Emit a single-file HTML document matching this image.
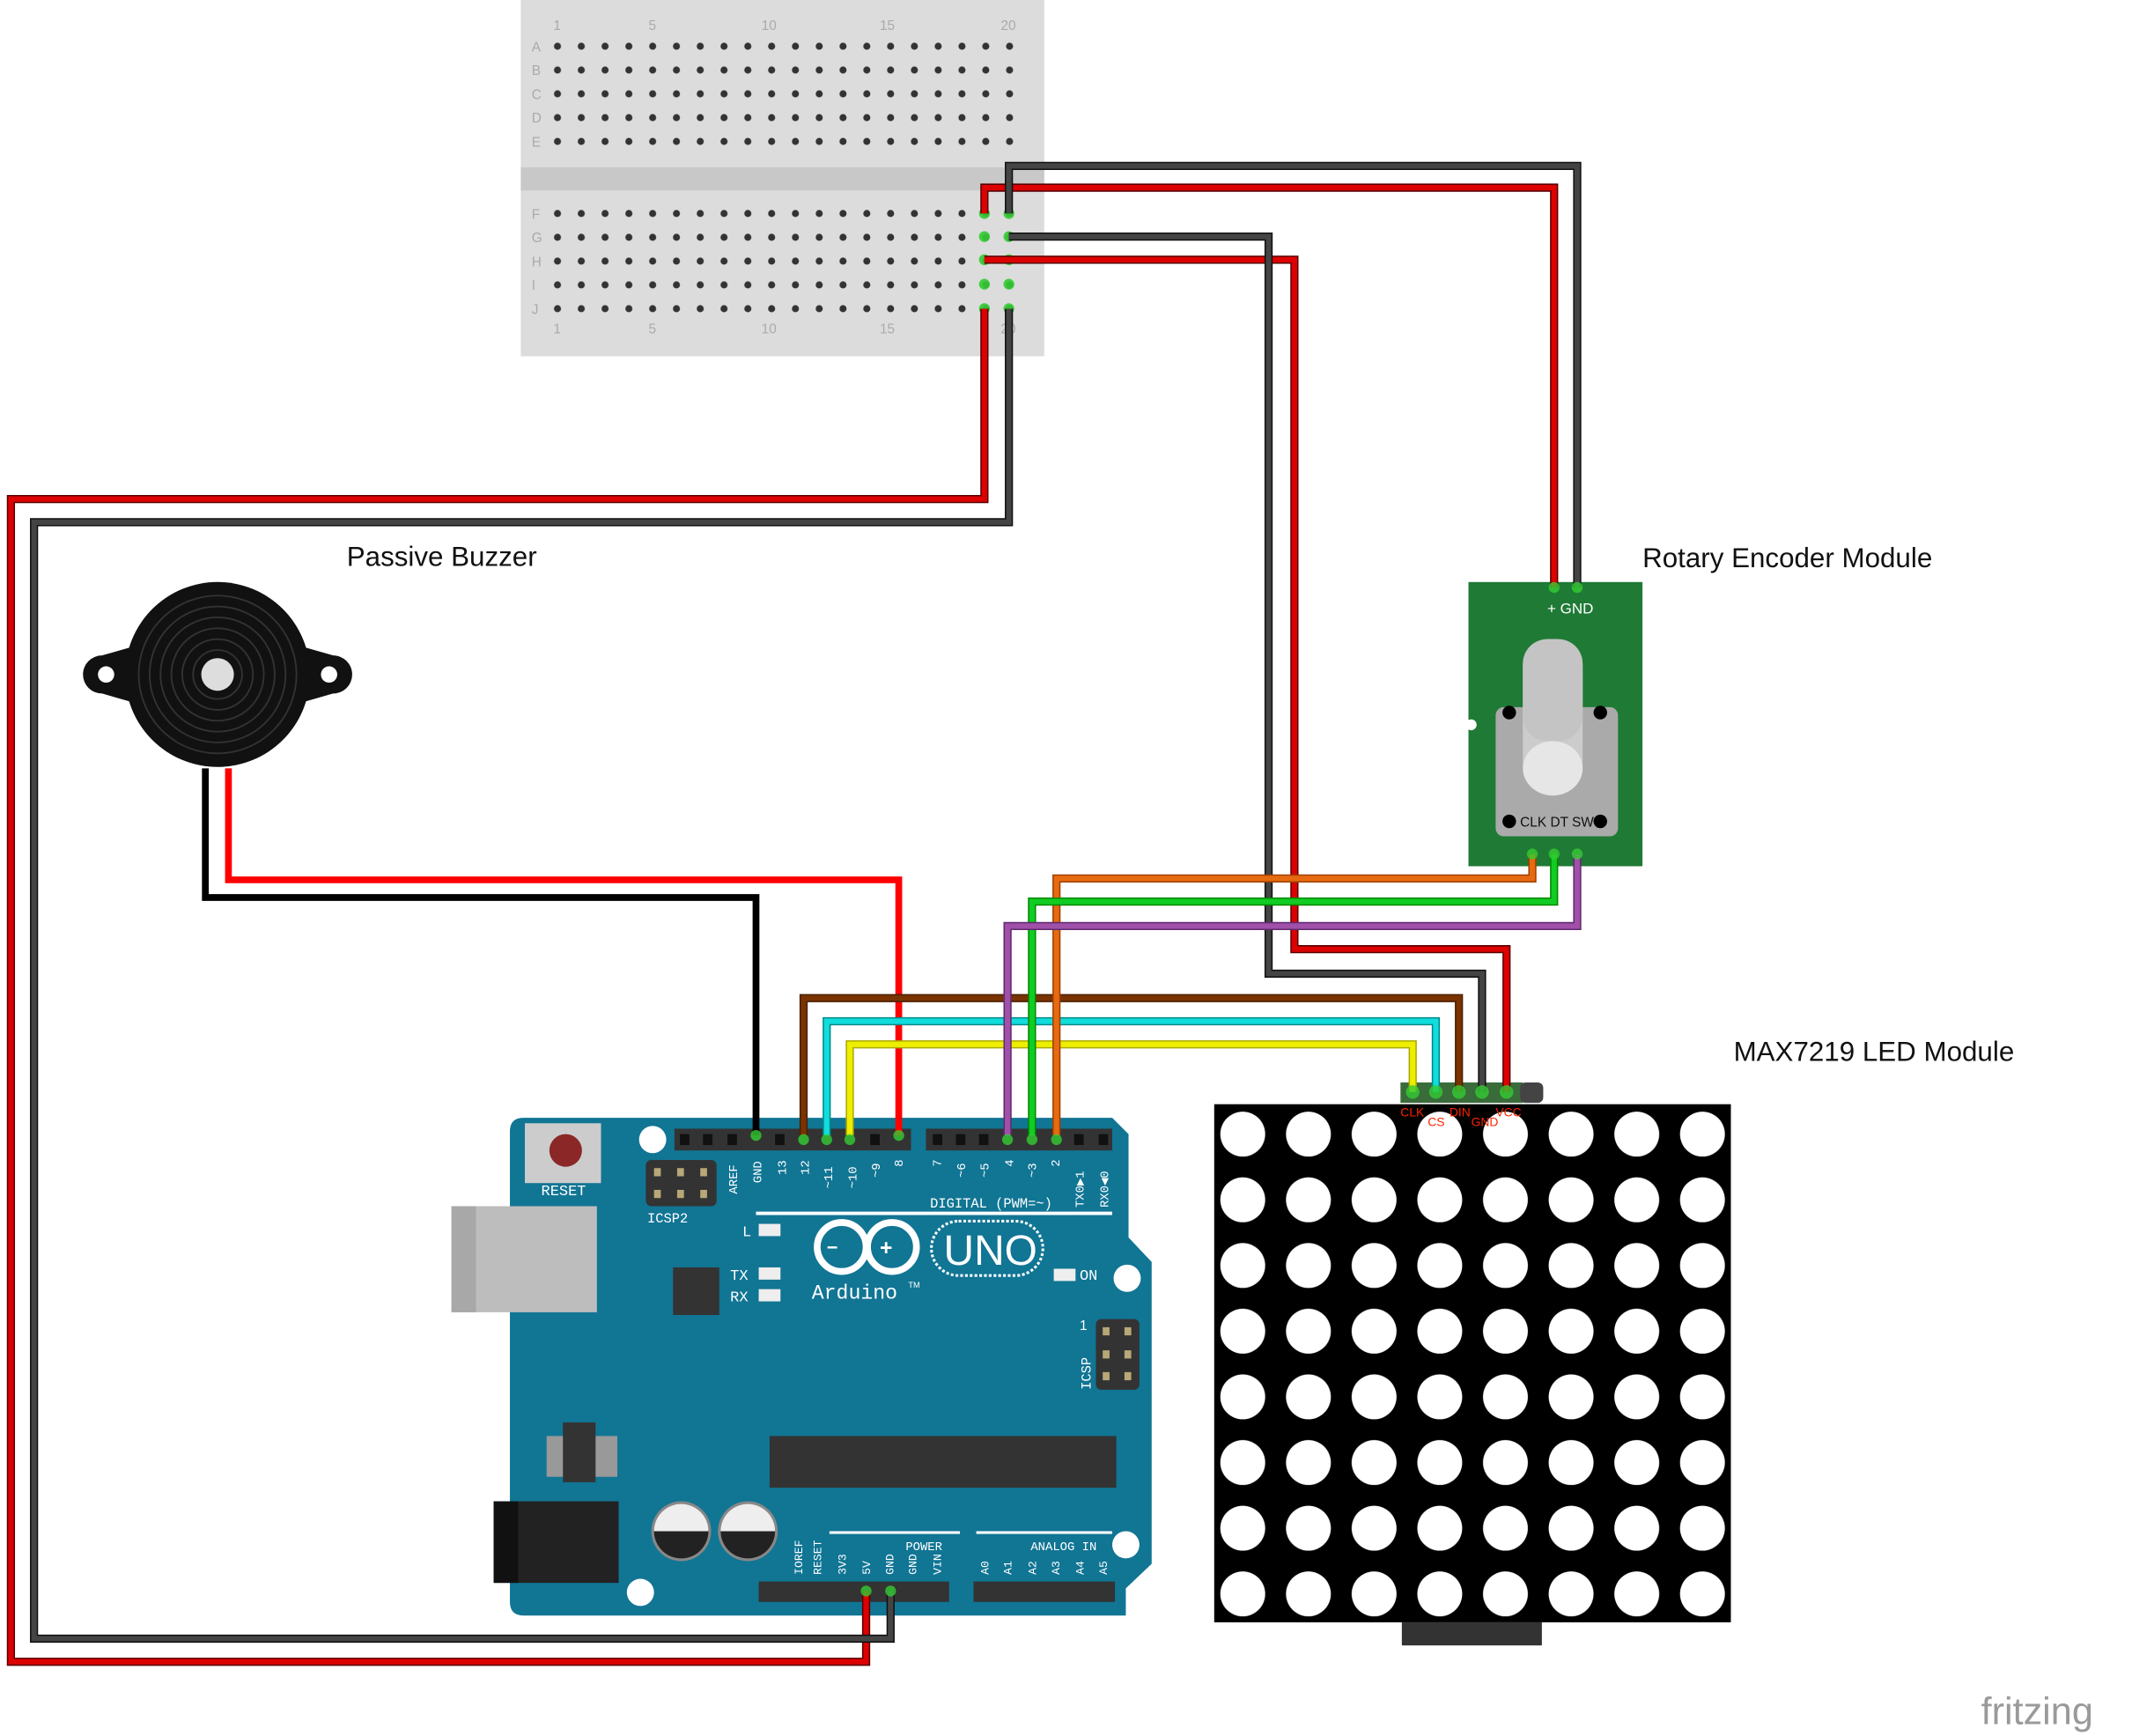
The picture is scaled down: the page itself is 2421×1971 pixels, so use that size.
<!DOCTYPE html>
<html><head><meta charset="utf-8"><style>html,body{margin:0;padding:0;background:#fff}svg{display:block}</style></head>
<body>
<svg xmlns="http://www.w3.org/2000/svg" width="2421" height="1971" viewBox="0 0 1568 1276.6" font-family="Liberation Sans, sans-serif">
<defs>
<pattern id="bb" x="401.25" y="25.25" width="17.5" height="17.5" patternUnits="userSpaceOnUse"><circle cx="8.75" cy="8.75" r="2.6" fill="#333"/></pattern>
<pattern id="bb2" x="401.25" y="148.25" width="17.5" height="17.5" patternUnits="userSpaceOnUse"><circle cx="8.75" cy="8.75" r="2.6" fill="#333"/></pattern>
<pattern id="led" x="890" y="810" width="48.3" height="48.3" patternUnits="userSpaceOnUse"><circle cx="24" cy="24" r="16.5" fill="#fff"/></pattern>
</defs>
<!-- breadboard -->
<rect x="383" y="0" width="385" height="262" fill="#dcdcdc"/>
<rect x="383" y="123" width="385" height="17" fill="#c8c8c8"/>
<rect x="401" y="25" width="350" height="88" fill="url(#bb)"/>
<rect x="401" y="148" width="350" height="88" fill="url(#bb2)"/>
<g font-size="10" fill="#aaa">
<text x="407" y="22">1</text><text x="477" y="22">5</text><text x="560" y="22">10</text><text x="647" y="22">15</text><text x="736" y="22">20</text>
<text x="407" y="245">1</text><text x="477" y="245">5</text><text x="560" y="245">10</text><text x="647" y="245">15</text><text x="736" y="245">20</text>
<text x="391" y="38">A</text><text x="391" y="55">B</text><text x="391" y="73">C</text><text x="391" y="90">D</text><text x="391" y="108">E</text>
<text x="391" y="161">F</text><text x="391" y="178">G</text><text x="391" y="196">H</text><text x="391" y="213">I</text><text x="391" y="231">J</text>
</g>
<g fill="#3c3" opacity="0.9"><circle cx="724" cy="157" r="4"/><circle cx="742" cy="157" r="4"/><circle cx="724" cy="174" r="4"/><circle cx="742" cy="174" r="4"/><circle cx="724" cy="191" r="4"/><circle cx="742" cy="191" r="4"/><circle cx="724" cy="209" r="4"/><circle cx="742" cy="209" r="4"/><circle cx="724" cy="227" r="4"/><circle cx="742" cy="227" r="4"/></g>

<!-- buzzer -->
<g>
<path d="M75,482 L110,472 L110,520 L75,510 A14,14 0 0 1 75,482Z" fill="#111"/>
<path d="M245,482 L210,472 L210,520 L245,510 A14,14 0 0 0 245,482Z" fill="#111"/>
<circle cx="78" cy="496" r="6" fill="#fff"/><circle cx="242" cy="496" r="6" fill="#fff"/>
<circle cx="160" cy="496" r="68" fill="#111"/>
<g fill="none" stroke="#333" stroke-width="1.2"><circle cx="160" cy="496" r="58"/><circle cx="160" cy="496" r="50"/><circle cx="160" cy="496" r="42"/><circle cx="160" cy="496" r="34"/><circle cx="160" cy="496" r="26"/><circle cx="160" cy="496" r="18"/></g>
<circle cx="160" cy="496" r="12" fill="#ddd"/>
</g>

<!-- encoder -->
<rect x="1080" y="428" width="128" height="209" fill="#1f7a35"/>
<circle cx="1082" cy="533" r="4" fill="#fff"/>
<text x="1138" y="451" font-size="11" fill="#fff">+ GND</text>
<rect x="1100" y="520" width="90" height="95" rx="6" fill="#aaa"/>
<rect x="1120" y="470" width="44" height="110" rx="20" fill="#ccc"/>
<ellipse cx="1142" cy="565" rx="22" ry="20" fill="#e6e6e6"/>
<rect x="1120" y="470" width="44" height="75" rx="18" fill="#c4c4c4"/>
<circle cx="1110" cy="524" r="5" fill="#000"/><circle cx="1177" cy="524" r="5" fill="#000"/>
<circle cx="1110" cy="604" r="5" fill="#000"/><circle cx="1177" cy="604" r="5" fill="#000"/>
<text x="1118" y="608" font-size="10" fill="#111">CLK DT SW</text>

<!-- arduino -->
<path d="M385,822 L818,822 L830,834 L830,910 L847,928 L847,1150 L828,1168 L828,1188 L385,1188 Q375,1188 375,1178 L375,832 Q375,822 385,822Z" fill="#117594"/>
<rect x="386" y="826" width="56" height="44" fill="#ccc"/><circle cx="416" cy="846" r="12" fill="#8b2727"/>
<text x="398" y="879" font-size="11" fill="#fff" font-family="Liberation Mono, monospace">RESET</text>
<rect x="332" y="887" width="107" height="78" fill="#bdbdbd"/><rect x="332" y="887" width="18" height="78" fill="#a8a8a8"/>
<circle cx="480" cy="838" r="10" fill="#fff"/><circle cx="829" cy="940" r="10" fill="#fff"/><circle cx="828" cy="1136" r="10" fill="#fff"/><circle cx="471" cy="1171" r="10" fill="#fff"/>
<rect x="475" y="853" width="52" height="34" rx="4" fill="#333"/>
<g fill="#b8a878"><rect x="481" y="859" width="5" height="6"/><rect x="498" y="859" width="5" height="6"/><rect x="515" y="859" width="5" height="6"/><rect x="481" y="875" width="5" height="6"/><rect x="498" y="875" width="5" height="6"/><rect x="515" y="875" width="5" height="6"/></g>
<text x="476" y="899" font-size="10" fill="#fff" font-family="Liberation Mono, monospace">ICSP2</text>
<rect x="496" y="830" width="174" height="16" fill="#333"/>
<rect x="681" y="830" width="137" height="16" fill="#333"/>
<g fill="#111"><rect x="500" y="834" width="7" height="8"/><rect x="517" y="834" width="7" height="8"/><rect x="535" y="834" width="7" height="8"/><rect x="570" y="834" width="7" height="8"/><rect x="640" y="834" width="7" height="8"/><rect x="686" y="834" width="7" height="8"/><rect x="703" y="834" width="7" height="8"/><rect x="720" y="834" width="7" height="8"/><rect x="790" y="834" width="7" height="8"/><rect x="808" y="834" width="7" height="8"/></g>
<rect x="556" y="891" width="262" height="2.5" fill="#fff"/>
<text x="684" y="888" font-size="10" fill="#fff" font-family="Liberation Mono, monospace">DIGITAL (PWM=~)</text>
<g font-size="9" fill="#fff" font-family="Liberation Mono, monospace">
<text transform="translate(542,878) rotate(-90)">AREF</text><text transform="translate(560,870) rotate(-90)">GND</text><text transform="translate(578,864) rotate(-90)">13</text><text transform="translate(595,864) rotate(-90)">12</text><text transform="translate(612,874) rotate(-90)">~11</text><text transform="translate(630,874) rotate(-90)">~10</text><text transform="translate(647,866) rotate(-90)">~9</text><text transform="translate(664,858) rotate(-90)">8</text>
<text transform="translate(692,858) rotate(-90)">7</text><text transform="translate(710,866) rotate(-90)">~6</text><text transform="translate(727,866) rotate(-90)">~5</text><text transform="translate(745,858) rotate(-90)">4</text><text transform="translate(762,866) rotate(-90)">~3</text><text transform="translate(779,858) rotate(-90)">2</text><text transform="translate(797,888) rotate(-90)">TX0▶1</text><text transform="translate(815,888) rotate(-90)">RX0◀0</text>
</g>
<text x="546" y="909" font-size="11" fill="#fff" font-family="Liberation Mono, monospace">L</text><rect x="558" y="900" width="16" height="9" fill="#eee"/>
<text x="537" y="941" font-size="11" fill="#fff" font-family="Liberation Mono, monospace">TX</text><rect x="558" y="932" width="16" height="9" fill="#eee"/>
<text x="537" y="957" font-size="11" fill="#fff" font-family="Liberation Mono, monospace">RX</text><rect x="558" y="948" width="16" height="9" fill="#eee"/>
<rect x="775" y="933" width="16" height="9" fill="#eee"/><text x="794" y="941" font-size="11" fill="#fff" font-family="Liberation Mono, monospace">ON</text>
<rect x="495" y="932" width="34" height="35" fill="#333"/>
<g fill="none" stroke="#fff" stroke-width="5"><circle cx="619" cy="917" r="18"/><circle cx="656" cy="917" r="18"/></g>
<text x="608" y="922" font-size="14" fill="#fff" font-weight="bold">−</text><text x="647" y="923" font-size="16" fill="#fff" font-weight="bold">+</text>
<rect x="685" y="898" width="82" height="40" rx="20" fill="none" stroke="#fff" stroke-width="2" stroke-dasharray="2 1.5"/>
<text x="694" y="930" font-size="31" fill="#fff">UNO</text>
<text x="597" y="955" font-size="15" fill="#fff" font-family="Liberation Mono, monospace">Arduino</text><text x="668" y="947" font-size="6" fill="#fff">TM</text>
<rect x="806" y="970" width="32" height="52" rx="4" fill="#333"/>
<g fill="#b8a878"><rect x="811" y="976" width="5" height="6"/><rect x="827" y="976" width="5" height="6"/><rect x="811" y="993" width="5" height="6"/><rect x="827" y="993" width="5" height="6"/><rect x="811" y="1009" width="5" height="6"/><rect x="827" y="1009" width="5" height="6"/></g>
<text x="794" y="978" font-size="10" fill="#fff">1</text>
<text transform="translate(802,1022) rotate(-90)" font-size="10" fill="#fff" font-family="Liberation Mono, monospace">ICSP</text>
<rect x="566" y="1056" width="255" height="38" fill="#333"/>
<rect x="402" y="1056" width="52" height="30" fill="#999"/><rect x="414" y="1046" width="24" height="44" fill="#333"/>
<rect x="363" y="1104" width="92" height="60" fill="#222"/><rect x="363" y="1104" width="18" height="60" fill="#111"/>
<circle cx="501" cy="1126" r="22" fill="#888"/><path d="M481,1126 A20,20 0 0 1 521,1126Z" fill="#eee"/><path d="M481,1126 A20,20 0 0 0 521,1126Z" fill="#222"/>
<circle cx="550" cy="1126" r="22" fill="#888"/><path d="M530,1126 A20,20 0 0 1 570,1126Z" fill="#eee"/><path d="M530,1126 A20,20 0 0 0 570,1126Z" fill="#222"/>
<rect x="610" y="1126" width="96" height="2" fill="#fff"/><rect x="718" y="1126" width="100" height="2" fill="#fff"/>
<text x="666" y="1140" font-size="9" fill="#fff" font-family="Liberation Mono, monospace">POWER</text>
<text x="758" y="1140" font-size="9" fill="#fff" font-family="Liberation Mono, monospace">ANALOG IN</text>
<g font-size="8.5" fill="#fff" font-family="Liberation Mono, monospace">
<text transform="translate(590,1158) rotate(-90)">IOREF</text><text transform="translate(604,1158) rotate(-90)">RESET</text><text transform="translate(622,1158) rotate(-90)">3V3</text><text transform="translate(640,1158) rotate(-90)">5V</text><text transform="translate(657,1158) rotate(-90)">GND</text><text transform="translate(674,1158) rotate(-90)">GND</text><text transform="translate(692,1158) rotate(-90)">VIN</text>
<text transform="translate(727,1158) rotate(-90)">A0</text><text transform="translate(744,1158) rotate(-90)">A1</text><text transform="translate(762,1158) rotate(-90)">A2</text><text transform="translate(779,1158) rotate(-90)">A3</text><text transform="translate(797,1158) rotate(-90)">A4</text><text transform="translate(814,1158) rotate(-90)">A5</text>
</g>
<rect x="558" y="1163" width="140" height="15" fill="#333"/><rect x="716" y="1163" width="104" height="15" fill="#333"/>

<!-- LED module -->
<rect x="893" y="812" width="380" height="381" fill="#000"/>
<rect x="893" y="812" width="380" height="381" fill="url(#led)"/>
<rect x="1031" y="1193" width="103" height="17" fill="#333"/>
<rect x="1030" y="796" width="90" height="15" fill="#3a6b3a"/>
<rect x="1118" y="796" width="17" height="15" rx="4" fill="#444"/>
<g font-size="9" fill="#f20"><text x="1030" y="821">CLK</text><text x="1050" y="828">CS</text><text x="1066" y="821">DIN</text><text x="1082" y="828">GND</text><text x="1100" y="821">VCC</text></g>

<!-- wires -->
<g fill="none" stroke-linejoin="miter">
<g stroke-width="6" stroke="#5a0000"><polyline points="724,157 724,138 1143,138 1143,432"/><polyline points="724,191 952,191 952,698 1108,698 1108,803"/><polyline points="724,227 724,367 8,367 8,1222 637,1222 637,1170"/></g>
<g stroke-width="4" stroke="#d00"><polyline points="724,157 724,138 1143,138 1143,432"/><polyline points="724,191 952,191 952,698 1108,698 1108,803"/><polyline points="724,227 724,367 8,367 8,1222 637,1222 637,1170"/></g>
<g stroke-width="6" stroke="#111"><polyline points="742,157 742,122 1160,122 1160,432"/><polyline points="742,174 933,174 933,716 1090,716 1090,803"/><polyline points="742,227 742,384 25,384 25,1205 655,1205 655,1170"/></g>
<g stroke-width="4" stroke="#444"><polyline points="742,157 742,122 1160,122 1160,432"/><polyline points="742,174 933,174 933,716 1090,716 1090,803"/><polyline points="742,227 742,384 25,384 25,1205 655,1205 655,1170"/></g>
<polyline points="151,565 151,660 556,660 556,835" stroke="#000" stroke-width="5"/>
<polyline points="168,565 168,647 661,647 661,835" stroke="#f00" stroke-width="5"/>
<polyline points="591,835 591,734 1073,734 1073,803" stroke="#4a1f00" stroke-width="6"/><polyline points="591,835 591,734 1073,734 1073,803" stroke="#7a3300" stroke-width="4"/>
<polyline points="608,835 608,751 1056,751 1056,803" stroke="#088" stroke-width="6"/><polyline points="608,835 608,751 1056,751 1056,803" stroke="#1dd" stroke-width="4"/>
<polyline points="625,835 625,768 1039,768 1039,803" stroke="#aa0" stroke-width="6"/><polyline points="625,835 625,768 1039,768 1039,803" stroke="#ee0" stroke-width="4"/>
<polyline points="777,835 777,646 1127,646 1127,628" stroke="#a04000" stroke-width="6"/><polyline points="777,835 777,646 1127,646 1127,628" stroke="#e66a10" stroke-width="4"/>
<polyline points="759,835 759,663 1143,663 1143,628" stroke="#080" stroke-width="6"/><polyline points="759,835 759,663 1143,663 1143,628" stroke="#1c2" stroke-width="4"/>
<polyline points="741,835 741,681 1160,681 1160,628" stroke="#602a70" stroke-width="6"/><polyline points="741,835 741,681 1160,681 1160,628" stroke="#a050a8" stroke-width="4"/>
</g>
<g fill="#3c3" opacity="0.8"><circle cx="556" cy="835" r="4"/><circle cx="591" cy="838" r="4"/><circle cx="608" cy="838" r="4"/><circle cx="625" cy="838" r="4"/><circle cx="661" cy="835" r="4"/><circle cx="741" cy="838" r="4"/><circle cx="759" cy="838" r="4"/><circle cx="777" cy="838" r="4"/><circle cx="637" cy="1170" r="4"/><circle cx="655" cy="1170" r="4"/><circle cx="1039" cy="803" r="5"/><circle cx="1056" cy="803" r="5"/><circle cx="1073" cy="803" r="5"/><circle cx="1090" cy="803" r="5"/><circle cx="1108" cy="803" r="5"/><circle cx="1143" cy="432" r="4"/><circle cx="1160" cy="432" r="4"/><circle cx="1127" cy="628" r="4"/><circle cx="1143" cy="628" r="4"/><circle cx="1160" cy="628" r="4"/></g>

<!-- labels -->
<g font-size="20.3" fill="#111"><text x="255" y="416">Passive Buzzer</text><text x="1208" y="417">Rotary Encoder Module</text><text x="1275" y="780">MAX7219 LED Module</text></g>
<text x="1457" y="1268" font-size="28" fill="#9a9a9a">fritzing</text>
</svg>
</body></html>
